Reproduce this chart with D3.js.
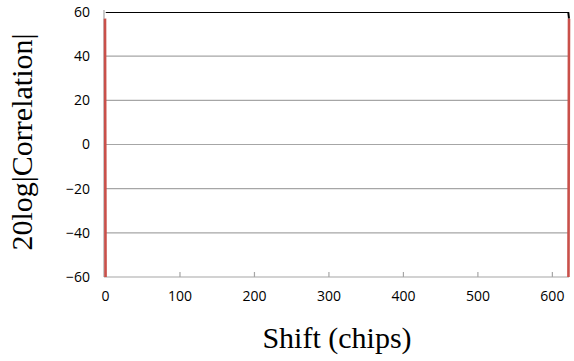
<!DOCTYPE html>
<html>
<head>
<meta charset="utf-8">
<script src="https://cdn.jsdelivr.net/npm/d3@7"></script>
<style>
  html, body { margin: 0; padding: 0; background: #fff; }
  svg { display: block; }
</style>
</head>
<body>
<svg id="chart" width="574" height="361"></svg>
<script>
// Correlation magnitude vs. code shift (dB); sidelobes fall below the axis floor
const shifts = [0, 1, 622, 623];
const corrDb = [57, -100, -100, 57];
// Upper reference trace (clipped at the top of the plot)
const refShifts = [1, 622, 623];
const refDb = [60, 60, 57];
const xTicks = [0, 100, 200, 300, 400, 500, 600];
const yTicks = [-60, -40, -20, 0, 20, 40, 60];

const svg = d3.select("#chart");
const m = { left: 105, right: 569, top: 12, bottom: 277 };

const x = d3.scaleLinear().domain([0, 623]).range([m.left, m.right]);
const y = d3.scaleLinear().domain([-60, 60]).range([m.bottom, m.top]);

svg.append("defs").append("clipPath").attr("id", "plotClip")
  .append("rect")
  .attr("x", m.left - 3).attr("y", m.top)
  .attr("width", m.right - m.left + 6).attr("height", m.bottom - m.top);

// Horizontal gridlines
svg.append("g")
  .selectAll("line")
  .data(yTicks.filter(d => d > -60 && d < 60))
  .join("line")
  .attr("x1", m.left).attr("x2", m.right)
  .attr("y1", d => y(d)).attr("y2", d => y(d))
  .attr("stroke", "#a6a6a6").attr("stroke-width", 1.2);

const tickFont = "'Open Sans', 'Liberation Sans', sans-serif";

// Y axis
const yAxis = d3.axisLeft(y).tickValues(yTicks).tickSize(0).tickPadding(14);
const gy = svg.append("g").attr("transform", `translate(${m.left - 1},0)`).call(yAxis);
gy.select(".domain").attr("stroke", "#a6a6a6").attr("stroke-width", 1.2)
  .attr("d", `M0,${m.top - 2}V${m.bottom}`);
gy.selectAll("text").attr("font-family", tickFont)
  .attr("font-size", 14).attr("fill", "#000");

// X axis with inward ticks
const xAxis = d3.axisBottom(x).tickValues(xTicks).tickSizeInner(-5).tickSizeOuter(0).tickPadding(14);
const gx = svg.append("g").attr("transform", `translate(0,${m.bottom})`).call(xAxis);
gx.select(".domain").attr("stroke", "#a6a6a6").attr("stroke-width", 1.2)
  .attr("d", `M${m.left - 1},0H${m.right}`);
gx.selectAll(".tick line").attr("stroke", "#a6a6a6").attr("stroke-width", 1.2);
gx.selectAll("text").attr("font-family", tickFont)
  .attr("font-size", 14).attr("fill", "#000");

const plot = svg.append("g").attr("clip-path", "url(#plotClip)");

// Reference trace
plot.append("path")
  .datum(refShifts.map((s, i) => [s, refDb[i]]))
  .attr("fill", "none").attr("stroke", "#000").attr("stroke-width", 2)
  .attr("d", d3.line().x(d => x(d[0])).y(d => y(d[1])));

// Correlation trace
plot.append("path")
  .datum(shifts.map((s, i) => [s, corrDb[i]]))
  .attr("fill", "none").attr("stroke", "#c9504a").attr("stroke-width", 2.6)
  .attr("d", d3.line().x(d => x(d[0])).y(d => y(d[1])));

// Axis titles
const titleFont = "'Liberation Serif', 'Times New Roman', serif";
svg.append("text")
  .attr("x", 337).attr("y", 348)
  .attr("text-anchor", "middle")
  .attr("font-family", titleFont)
  .attr("font-size", 30).attr("fill", "#000")
  .text("Shift (chips)");

svg.append("text")
  .attr("transform", "translate(32,142) rotate(-90)")
  .attr("text-anchor", "middle")
  .attr("font-family", titleFont)
  .attr("font-size", 30).attr("fill", "#000")
  .text("20log|Correlation|");
</script>
</body>
</html>
